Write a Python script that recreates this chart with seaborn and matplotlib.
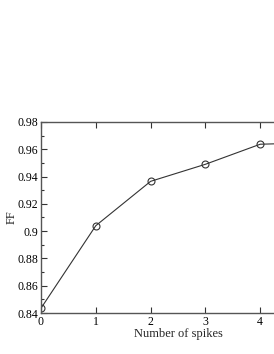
import matplotlib
matplotlib.use("Agg")
import matplotlib.pyplot as plt
import seaborn as sns
import pandas as pd
from matplotlib.ticker import MultipleLocator

spikes = [0, 1, 2, 3, 4, 5]
ff = [0.8435, 0.904, 0.9365, 0.949, 0.9637, 0.9648]
x_labels = ["0", "1", "2", "3", "4", ""]
y_ticks = [0.84, 0.86, 0.88, 0.9, 0.92, 0.94, 0.96, 0.98]
y_labels = ["0.84", "0.86", "0.88", "0.9", "0.92", "0.94", "0.96", "0.98"]

sns.set_style("ticks")
plt.rcParams["font.family"] = ["Liberation Serif", "DejaVu Serif"]

df = pd.DataFrame({"Number of spikes": spikes, "FF": ff})

fig = plt.figure(figsize=(2.74, 3.54), dpi=100)
ax = fig.add_axes([0.1496, 0.1158, 1.0, 0.5396])
sns.lineplot(data=df, x="Number of spikes", y="FF", ax=ax, color="#333333",
             linewidth=0.8, marker="o", markersize=5, markerfacecolor="none",
             markeredgecolor="#333333", markeredgewidth=0.8)

ax.set_xlim(0, 5)
ax.set_ylim(0.84, 0.98)
ax.set_xticks(spikes)
ax.set_xticklabels(x_labels)
ax.set_yticks(y_ticks)
ax.set_yticklabels(y_labels)
ax.yaxis.set_minor_locator(MultipleLocator(0.01))
ax.tick_params(which="both", direction="in", top=True, right=True,
               labelsize=8.5, width=0.8, colors="#333333", labelcolor="black", pad=2)
ax.tick_params(which="major", length=4)
ax.tick_params(which="minor", length=2)
for s in ax.spines.values():
    s.set_linewidth(1.0)
    s.set_color("#555555")
ax.set_xlabel("Number of spikes", fontsize=9, labelpad=0)
ax.set_ylabel("FF", fontsize=9, labelpad=0)

fig.savefig("out.png", dpi=100)
